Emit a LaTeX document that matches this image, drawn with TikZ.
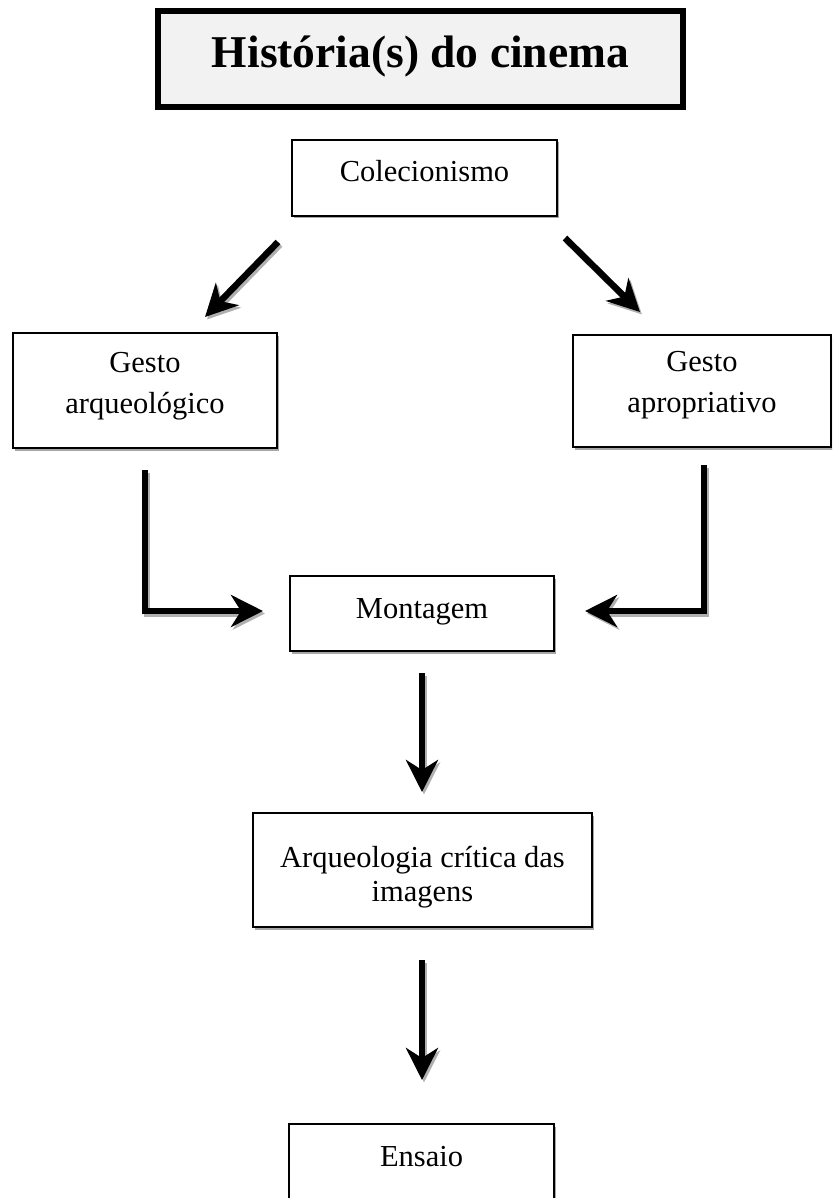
\documentclass[tikz,border=0pt]{standalone}
\usepackage{fontspec}
\setmainfont{Liberation Serif}
\usetikzlibrary{arrows.meta,shadows}
\definecolor{titlefill}{HTML}{F2F2F2}
\definecolor{shadowgray}{HTML}{B0B0B0}
\begin{document}
\begin{tikzpicture}[x=1pt,y=-1pt,
  box/.style={draw=black, line width=1.6pt, fill=white, inner sep=0pt, align=center,
    font=\fontsize{30.5}{41}\selectfont,
    drop shadow={shadow xshift=2pt, shadow yshift=-2.5pt, opacity=0.35, fill=black}},
  titlebox/.style={draw=black, line width=6.5pt, fill=titlefill, inner sep=0pt, align=center,
    font=\fontsize{45.5}{50}\selectfont\bfseries,
    drop shadow={shadow xshift=2pt, shadow yshift=-2.5pt, opacity=0.35, fill=black}},
  bigarrow/.style={line width=6.5pt, -{Stealth[length=32pt,width=32pt,inset=10pt]},
    preaction={draw=shadowgray, line width=6.5pt, transform canvas={shift={(2pt,-2.5pt)}}}}
]
\useasboundingbox (0,0) rectangle (832,1198);
\begin{scope}
\clip (0,0) rectangle (832,1198);

\node[titlebox, minimum width=525pt, minimum height=96pt, text height=36pt, text depth=18pt] (title) at (420.5,59) {História(s) do cinema};

\node[box, minimum width=265pt, minimum height=76pt, text height=25pt, text depth=17pt] (col) at (424.5,178) {Colecionismo};

\node[box, minimum width=264pt, minimum height=115pt, text height=62pt, text depth=17pt] (ga) at (145,390.5) {Gesto\\arqueológico};

\node[box, minimum width=258pt, minimum height=112pt, text height=62pt, text depth=19pt] (gp) at (702,391) {Gesto\\apropriativo};

\node[box, minimum width=264pt, minimum height=75pt, text height=26pt, text depth=16pt] (mon) at (422,613.5) {Montagem};

\node[box, minimum width=339pt, minimum height=114pt, text height=74pt, text depth=12pt,
  font=\fontsize{30.5}{34}\selectfont] (arq) at (422.5,870) {Arqueologia crítica das\\imagens};

\node[box, minimum width=265pt, minimum height=76pt, text height=25pt, text depth=17pt] (ens) at (421.5,1162) {Ensaio};

% connector end points
\coordinate (a1s) at (278,242);
\coordinate (a1e) at (205,317);
\coordinate (a2s) at (565,238);
\coordinate (a2e) at (640,312);
\coordinate (a3s) at (145,470);
\coordinate (a3e) at (263,611);
\coordinate (a4s) at (704,465);
\coordinate (a4e) at (585,611);
\coordinate (a5s) at (422,673);
\coordinate (a5e) at (422,792);
\coordinate (a6s) at (422,960);
\coordinate (a6e) at (422,1080);

\draw[bigarrow] (a1s) -- (a1e);
\draw[bigarrow] (a2s) -- (a2e);
\draw[bigarrow] (a3s) |- (a3e);
\draw[bigarrow] (a4s) |- (a4e);
\draw[bigarrow] (a5s) -- (a5e);
\draw[bigarrow] (a6s) -- (a6e);
\end{scope}
\end{tikzpicture}
\end{document}
